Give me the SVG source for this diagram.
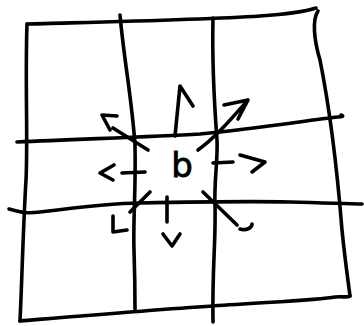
<svg xmlns="http://www.w3.org/2000/svg" width="364" height="326" viewBox="0 0 364 326">
<style>
.ln{fill:none;stroke:#000;stroke-width:3.6;stroke-linecap:round;stroke-linejoin:round}
.ar{fill:none;stroke:#000;stroke-width:3.6;stroke-linecap:round;stroke-linejoin:round}
.lb{font-family:"DejaVu Sans",sans-serif;font-size:34px;fill:#000;stroke:#000;stroke-width:0.8}
</style>
<rect width="364" height="326" fill="#fff"/>
<g id="grid">
<path class="ln" d="M27,24 C100,22 200,20 260,16 C290,14 310,10 316,8"/>
<path class="ln" d="M318,11 C312,20 314,40 320,60 C330,110 338,180 342,230 C345,260 348,280 350,296"/>
<path class="ln" d="M20,321 C80,316 150,310 213,306 C270,302 320,300 335,297 C342,296 347,298 350,296"/>
<path class="ln" d="M27,24 C25,80 28,140 26,180 C23,230 22,280 20,321"/>
<path class="ln" d="M120,15 C124,60 132,100 135,145 C136,190 133,220 134,250 C135,280 135,300 135,310"/>
<path class="ln" d="M213,18 C212,60 214,100 217,140 C218,160 214,180 215,205 C216,240 212,270 213,322"/>
<path class="ln" d="M17,142 C80,139 150,137 200,134 C260,128 310,120 338,117 C343,117 344,116 341,115"/>
<path class="ln" d="M9,209 C20,212 25,214 40,212 C80,207 120,203 140,203 C190,202 240,201 290,202 C330,203 350,204 362,204"/>
</g>
<g id="b">
<text class="lb" x="182" y="177" text-anchor="middle">b</text>
</g>
<g id="connectors">
<path class="ar" d="M175,136 L180,86 L193,106"/>
<path class="ar" d="M198,150 C215,138 232,118 248,100 M224,105 L248,100 L238,119"/>
<path class="ar" d="M213,163 L233,162 M240,155 L265,162 L252,172"/>
<path class="ar" d="M203,192 L237,225 M240,229 C246,231 252,228 252,224"/>
<path class="ar" d="M167,197 L167,222 M163,234 L172,246 L180,234"/>
<path class="ar" d="M150,192 L130,212 M113,216 L113,232 L127,230"/>
<path class="ar" d="M145,172 L122,173 M114,165 L100,173 L113,180"/>
<path class="ar" d="M148,150 L113,128 M117,116 L102,115 L110,130"/>
</g>
</svg>
